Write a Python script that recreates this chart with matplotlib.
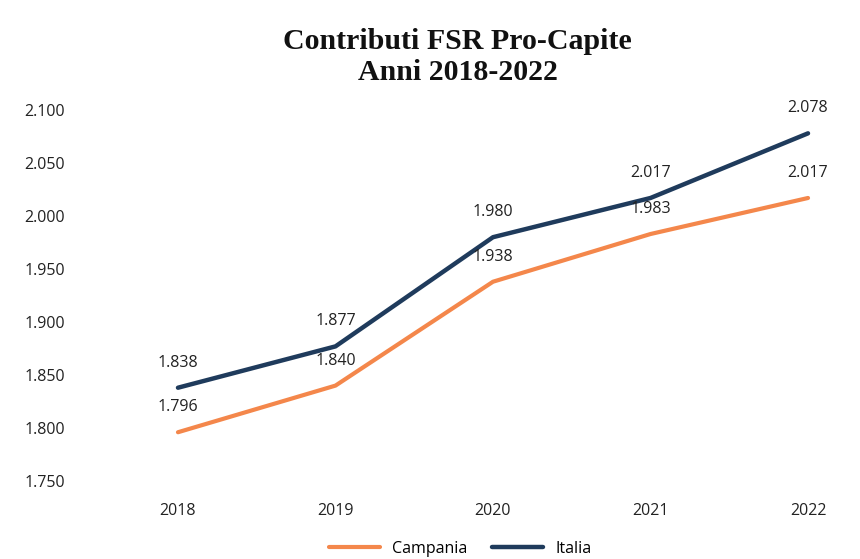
import matplotlib
matplotlib.use("Agg")
import matplotlib.pyplot as plt

years = ["2018", "2019", "2020", "2021", "2022"]
campania = [1796, 1840, 1938, 1983, 2017]
italia = [1838, 1877, 1980, 2017, 2078]
yticks = [1750, 1800, 1850, 1900, 1950, 2000, 2050, 2100]

def fmt(v):
    return f"{v/1000:.3f}"

fig = plt.figure(figsize=(8.6, 5.59), dpi=100)
ax = fig.add_axes([100/860, 78/559, 760/860, 371/559])
x = list(range(len(years)))
ax.plot(x, campania, color="#F4874B", lw=3, label="Campania", solid_capstyle="round")
ax.plot(x, italia, color="#1F3B5C", lw=3.2, label="Italia", solid_capstyle="round")
for xi, v in zip(x, campania):
    ax.annotate(fmt(v), (xi, v), xytext=(0, 18), textcoords="offset points",
                ha="center", va="center", fontsize=11.5, family="Open Sans", color="#222222")
for xi, v in zip(x, italia):
    ax.annotate(fmt(v), (xi, v), xytext=(0, 18), textcoords="offset points",
                ha="center", va="center", fontsize=11.5, family="Open Sans", color="#222222")

ax.set_xlim(-0.495, 4.33)
ax.set_ylim(1750, 2100)
ax.set_yticks(yticks)
ax.set_yticklabels([fmt(v) for v in yticks], family="Open Sans", fontsize=11.5, color="#222222")
ax.set_xticks(x)
ax.set_xticklabels(years, family="Open Sans", fontsize=11.5, color="#222222")
ax.tick_params(axis="y", length=0, pad=25)
ax.tick_params(axis="x", length=0, pad=16)
for s in ax.spines.values():
    s.set_visible(False)

fig.text(0.532, 0.898, "Contributi FSR Pro-Capite\nAnni 2018-2022", ha="center", va="center",
         fontsize=21.5, family="Liberation Serif", fontweight="bold", linespacing=1.2, color="#111111")

fig.legend(loc="center", bbox_to_anchor=(0.535, 0.018), ncol=2, frameon=False,
           prop={"family": "Open Sans", "size": 11.5}, handlelength=3.2, columnspacing=1.5)
fig.savefig("out.png", dpi=100, facecolor="white")
